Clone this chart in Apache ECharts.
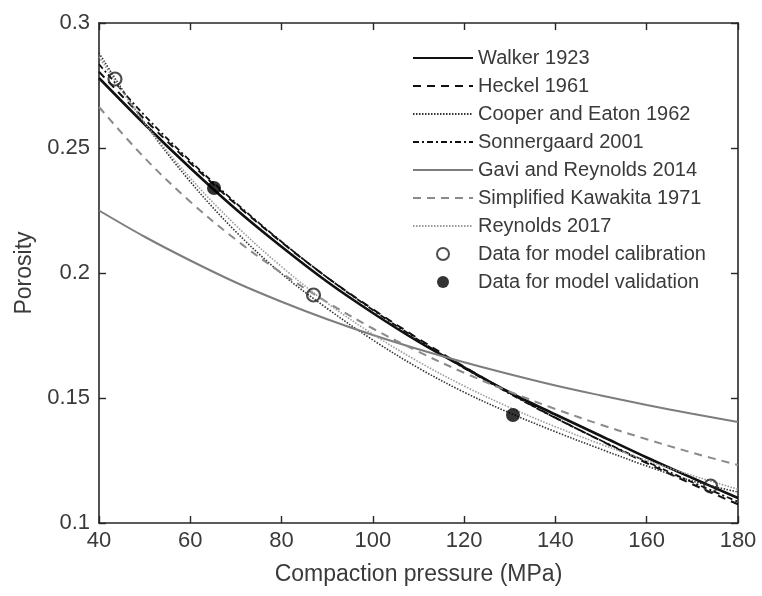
<!DOCTYPE html>
<html>
<head>
<meta charset="utf-8">
<script src="https://cdn.jsdelivr.net/npm/echarts@6/dist/echarts.min.js"></script>
<style>
  html, body { margin: 0; padding: 0; background: #fff; }
  #porosityChart { width: 762px; height: 596px; }
</style>
</head>
<body>
<div id="porosityChart"></div>
<script>
// compaction pressure (MPa) sample points for the model curves
var pressure = [40, 50, 60, 70, 80, 90, 100, 110, 120, 130, 140, 150, 160, 170, 180];

// porosity
var walker = [0.278, 0.2595, 0.242, 0.2255, 0.2105, 0.1965, 0.184, 0.1725, 0.1622, 0.1522, 0.1434, 0.1348, 0.1262, 0.118, 0.11];
var heckel = [0.2805, 0.2615, 0.244, 0.2275, 0.2123, 0.1982, 0.1855, 0.1737, 0.1625, 0.152, 0.1421, 0.1329, 0.124, 0.1155, 0.1075];
var cooperEaton = [0.288, 0.26, 0.2365, 0.2165, 0.1997, 0.1858, 0.1732, 0.162, 0.1523, 0.144, 0.1365, 0.1295, 0.1228, 0.1168, 0.1124];
var sonnergaard = [0.2835, 0.263, 0.2448, 0.228, 0.2125, 0.1982, 0.1852, 0.1732, 0.162, 0.1517, 0.142, 0.133, 0.1245, 0.1163, 0.1085];
var gaviReynolds = [0.225, 0.2145, 0.205, 0.1962, 0.1885, 0.1815, 0.1752, 0.1695, 0.1643, 0.1595, 0.155, 0.151, 0.1472, 0.1437, 0.1404];
var kawakita = [0.2664, 0.246, 0.2285, 0.2133, 0.2, 0.1883, 0.1778, 0.1685, 0.1601, 0.1525, 0.1456, 0.1393, 0.1335, 0.1281, 0.1232];
var reynolds = [0.2865, 0.26, 0.238, 0.219, 0.2025, 0.188, 0.1755, 0.1645, 0.1548, 0.1462, 0.1385, 0.1315, 0.125, 0.119, 0.1135];

// measured points
var calibX = [43.5, 87, 174];
var calibY = [0.2776, 0.1912, 0.1148];
var validX = [65.2, 130.7];
var validY = [0.234, 0.1432];

var xTicks = { min: 40, max: 180, interval: 20 };
var yTicks = { min: 0.1, max: 0.3, interval: 0.05 };

var curveNames = [
  "Walker 1923", "Heckel 1961", "Cooper and Eaton 1962", "Sonnergaard 2001",
  "Gavi and Reynolds 2014", "Simplified Kawakita 1971", "Reynolds 2017"
];
var pointNames = ["Data for model calibration", "Data for model validation"];

function pairs(xs, ys) {
  return xs.map(function (x, i) { return [x, ys[i]]; });
}

function curve(name, ys, color, width, dash) {
  return {
    name: name,
    type: "line",
    smooth: 0.35,
    symbol: "none",
    showSymbol: false,
    lineStyle: { color: color, width: width, type: dash },
    itemStyle: { color: color },
    data: pairs(pressure, ys)
  };
}

var axisColor = "#262626";
var textColor = "#3a3a3a";
var fontName = "Liberation Sans";

// shared axis look (box with inward ticks on all four sides)
function boxAxis(extra) {
  var base = {
    type: "value",
    axisLine: { show: true, onZero: false, lineStyle: { color: axisColor, width: 1.6 } },
    axisTick: { show: true, inside: true, length: 7, lineStyle: { color: axisColor, width: 1.4 } },
    axisLabel: { show: false },
    splitLine: { show: false }
  };
  return Object.assign(base, extra);
}

var chart = echarts.init(document.getElementById("porosityChart"));
var option = {
  backgroundColor: "#fff",
  animation: false,
  textStyle: { fontFamily: fontName },
  grid: { left: 99, right: 24, top: 23, bottom: 73 },
  legend: {
    orient: "vertical",
    left: 407,
    top: 43,
    itemWidth: 60,
    itemHeight: 12,
    itemGap: 8,
    textStyle: { fontSize: 20, color: textColor, fontFamily: fontName },
    data: curveNames.map(function (n) {
      return { name: n, itemStyle: { opacity: 0 } };
    }).concat(pointNames)
  },
  xAxis: [
    boxAxis({
      min: xTicks.min, max: xTicks.max, interval: xTicks.interval,
      name: "Compaction pressure (MPa)",
      nameLocation: "middle",
      nameGap: 40,
      nameTextStyle: { fontSize: 23, color: textColor },
      axisLabel: { show: true, fontSize: 22, color: textColor, margin: 7 }
    }),
    boxAxis({ position: "top", min: xTicks.min, max: xTicks.max, interval: xTicks.interval })
  ],
  yAxis: [
    boxAxis({
      min: yTicks.min, max: yTicks.max, interval: yTicks.interval,
      name: "Porosity",
      nameLocation: "middle",
      nameGap: 62,
      nameTextStyle: { fontSize: 23, color: textColor },
      axisLabel: { show: true, fontSize: 22, color: textColor, margin: 9 }
    }),
    boxAxis({ position: "right", min: yTicks.min, max: yTicks.max, interval: yTicks.interval })
  ],
  series: [
    curve(curveNames[0], walker, "#111", 2.6, "solid"),
    curve(curveNames[1], heckel, "#111", 2, [8, 6]),
    curve(curveNames[2], cooperEaton, "#333", 1.6, [1.5, 1.5]),
    curve(curveNames[3], sonnergaard, "#111", 1.8, [6, 3, 2, 3]),
    curve(curveNames[4], gaviReynolds, "#7d7d7d", 2, "solid"),
    curve(curveNames[5], kawakita, "#8a8a8a", 2, [8, 6]),
    curve(curveNames[6], reynolds, "#9a9a9a", 1.6, [1.5, 1.5]),
    {
      name: pointNames[0],
      type: "scatter",
      symbol: "circle",
      symbolSize: 13,
      z: 5,
      itemStyle: { color: "rgba(255,255,255,0)", borderColor: "#222", borderWidth: 2.2 },
      data: pairs(calibX, calibY)
    },
    {
      name: pointNames[1],
      type: "scatter",
      symbol: "circle",
      symbolSize: 14,
      z: 5,
      itemStyle: { color: "#000" },
      data: pairs(validX, validY)
    }
  ]
};
option && chart.setOption(option);
</script>
</body>
</html>
